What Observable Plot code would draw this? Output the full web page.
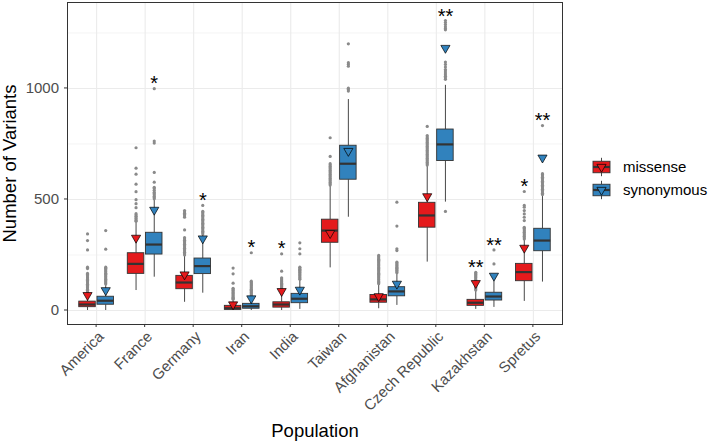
<!DOCTYPE html>
<html>
<head>
<meta charset="utf-8">
<script src="https://cdn.jsdelivr.net/npm/d3@7"></script>
<script src="https://cdn.jsdelivr.net/npm/@observablehq/plot@0.6"></script>
<style>
  body { margin: 0; background: #fff; }
</style>
</head>
<body>
<div id="chart"></div>
<script>
// ---------- data ----------
const populations = ["America","France","Germany","Iran","India","Taiwan","Afghanistan","Czech Republic","Kazakhstan","Spretus"];
const types = ["missense","synonymous"];
const typeColors = ["#E41A1C","#3182BD"];
const yTicks = [0, 500, 1000];
const yMinor = [250, 750, 1250];

// missense
const misQ1  = [15, 165, 96, 3, 13, 305, 35, 373, 21, 132];
const misMed = [27, 210, 126, 10, 27, 360, 50, 428, 35, 173];
const misQ3  = [40, 258, 156, 21, 37, 409, 70, 485, 48, 210];
const misLo  = [0, 90, 37, 0, 0, 192, 8, 218, 5, 41];
const misHi  = [77, 398, 246, 48, 73, 560, 118, 650, 89, 318];
const misObs = [69, 327, 162, 27, 87, 348, 64, 514, 123, 282];
const misStar  = ["", "", "", "", "*", "", "", "", "**", "*"];
const misStarY = [null, null, null, null, 296, null, null, null, 210, 575];
const misOut = [
  [80,85,91,96,102,107,113,118,124,129,135,140,146,151,157,162,167,189,195,273,315,345],
  [402,407,413,418,424,430,436,463,481,499,535,569,614,641,733],
  [250,256,262,268,274,280,286,292,298,304,310,316,322,328,363,420,426,432,438,444,450],
  [51,55,60,65,70,75,80,85,90,95,100,123,165,191],
  [78,83,88,93,98,103,108,113,118,123,128,133,138,143,147,177,255],
  [565,571,577,583,589,595,601,607,613,619,625,631,637,643,649,655,661,694,778],
  [121,126,131,137,142,147,152,158,163,168,173,179,184,189,194,200,205,210,215,221,226,231,236,242,248],
  [655,661,667,673,679,685,691,697,703,709,715,721,727,733,739,745,751,757,763,769,775,781,788,829],
  [92,97,102,107,112,117,122,127,132,137,142,147,152,157,162,167,172],
  [322,328,334,340,346,352,358,364,370,375,405,420,435,450,465,473,536]
];

// synonymous
const synQ1  = [26, 252, 164, 8, 33, 589, 64, 673, 45, 267];
const synMed = [44, 297, 200, 19, 53, 661, 86, 748, 63, 315];
const synQ3  = [62, 350, 234, 30, 75, 742, 105, 815, 80, 368];
const synLo  = [0, 150, 78, 0, 5, 420, 23, 488, 14, 128];
const synHi  = [116, 497, 339, 63, 138, 950, 167, 1014, 132, 518];
const synObs = [91, 453, 324, 54, 93, 718, 120, 1182, 156, 688];
const synStar  = ["", "*", "*", "*", "", "", "", "**", "**", "**"];
const synStarY = [null, 1040, 514, 300, null, null, null, 1342, 312, 871];
const synOut = [
  [119,124,130,135,141,146,152,157,163,168,174,179,185,190,195,276,360],
  [503,509,515,521,527,533,541,549,555,578,622,754,763,999],
  [345,351,357,363,369,375,381,387,393,399,405,411,417,423,429,435,441,447,473],
  [66,71,76,81,86,91,96,101,106,111,116,121,126,132,260],
  [141,146,151,156,161,166,171,176,181,186,191,195,255,278,305],
  [988,995,1001,1100,1108,1116,1201],
  [170,175,180,185,190,195,200,205,210,215,218,270,278,380,488],
  [446,1041,1048,1055,1062,1070,1078,1085,1096,1108,1119,1264,1270,1278,1288,1297,1306],
  [210,273],
  [522,528,534,540,546,552,558,564,570,576,582,588,594,600,606,612,616,833]
];

// ---------- tables built from the arrays ----------
const dodge = 0.1875, halfW = 0.17;
const rows = [];
populations.forEach((p, i) => {
  rows.push({pop: p, type: "missense", c: i + 1 - dodge,
    q1: misQ1[i], med: misMed[i], q3: misQ3[i], lo: misLo[i], hi: misHi[i], obs: misObs[i],
    star: misStar[i], starY: misStarY[i], out: misOut[i]});
  rows.push({pop: p, type: "synonymous", c: i + 1 + dodge,
    q1: synQ1[i], med: synMed[i], q3: synQ3[i], lo: synLo[i], hi: synHi[i], obs: synObs[i],
    star: synStar[i], starY: synStarY[i], out: synOut[i]});
});
const outRows = rows.flatMap(r => r.out.map(v => ({c: r.c, v, type: r.type})));
const starRows = rows.filter(r => r.star);
const xPos = populations.map((p, i) => i + 1);

const font = "'Liberation Sans', Arial, Helvetica, sans-serif";

const plot = Plot.plot({
  width: 709,
  height: 443,
  marginLeft: 67,
  marginRight: 147,
  marginTop: 2,
  marginBottom: 119,
  style: {fontFamily: font, fontSize: "15px", background: "#fff", overflow: "visible"},
  x: {type: "linear", domain: [0.4, 10.6], axis: null},
  y: {domain: [-63, 1387], axis: null},
  color: {domain: types, range: typeColors},
  marks: [
    Plot.ruleY(yMinor, {stroke: "#EBEBEB", strokeWidth: 0.55}),
    Plot.ruleY(yTicks, {stroke: "#EBEBEB", strokeWidth: 1.1}),
    Plot.ruleX(xPos, {stroke: "#EBEBEB", strokeWidth: 1.1}),
    Plot.ruleX(rows, {x: "c", y1: "q3", y2: "hi", stroke: "#333", strokeWidth: 0.9}),
    Plot.ruleX(rows, {x: "c", y1: "lo", y2: "q1", stroke: "#333", strokeWidth: 0.9}),
    Plot.dot(outRows, {x: "c", y: "v", r: 1.6, fill: "#8A8A8A", stroke: null}),
    Plot.rect(rows, {x1: d => d.c - halfW, x2: d => d.c + halfW, y1: "q1", y2: "q3",
      fill: "type", stroke: "#333", strokeWidth: 0.9}),
    Plot.ruleY(rows, {x1: d => d.c - halfW, x2: d => d.c + halfW, y: "med", stroke: "#333", strokeWidth: 2.2}),
    Plot.dot(rows, {x: "c", y: "obs", symbol: "triangle", rotate: 180, r: 3.4,
      fill: "type", stroke: "#000", strokeWidth: 0.7}),
    Plot.text(starRows, {x: "c", y: "starY", text: "star", fontSize: 20, fill: "#000", dy: 4}),
    Plot.frame({stroke: "#333", strokeWidth: 1}),
    // y tick labels
    Plot.text(yTicks, {y: d => d, text: d => String(d), frameAnchor: "left", dx: -8.5,
      textAnchor: "end", fontSize: 15, fill: "#4D4D4D"}),
    // x tick labels
    Plot.text(populations, {x: (d, i) => i + 1, text: d => d, frameAnchor: "bottom",
      rotate: -45, textAnchor: "end", lineAnchor: "top", dx: 0.5, dy: 5.5, fontSize: 15, fill: "#4D4D4D"}),
    // axis titles
    Plot.text(["Number of Variants"], {frameAnchor: "left", rotate: -90, dx: -52,
      textAnchor: "middle", lineAnchor: "bottom", fontSize: 18.5, fill: "#000", text: d => d}),
    Plot.text(["Population"], {frameAnchor: "bottom", dy: 112, textAnchor: "middle", lineAnchor: "bottom",
      fontSize: 18.5, fill: "#000", text: d => d})
  ]
});

// axis tick marks (short lines outside the panel), placed with the plot's scales
const sx = plot.scale("x"), sy = plot.scale("y");
const svg = d3.select(plot);
const axG = svg.append("g").attr("stroke", "#333").attr("stroke-width", 1);
yTicks.forEach(v => {
  const y = sy.apply(v);
  axG.append("line").attr("x1", 64).attr("x2", 67).attr("y1", y).attr("y2", y);
});
xPos.forEach(v => {
  const x = sx.apply(v);
  axG.append("line").attr("x1", x).attr("x2", x).attr("y1", 324).attr("y2", 327);
});

// legend
const lg = svg.append("g").attr("text-anchor", "start");
const triPath = d3.symbol(d3.symbolTriangle, Math.PI * 3.4 * 3.4)();
types.forEach((t, k) => {
  const cy = 167 + k * 23;
  lg.append("line").attr("x1", 601.5).attr("x2", 601.5).attr("y1", cy - 9.2).attr("y2", cy - 5.75)
    .attr("stroke", "#333").attr("stroke-width", 0.9);
  lg.append("line").attr("x1", 601.5).attr("x2", 601.5).attr("y1", cy + 5.75).attr("y2", cy + 9.2)
    .attr("stroke", "#333").attr("stroke-width", 0.9);
  lg.append("rect").attr("x", 593).attr("y", cy - 5.75).attr("width", 17).attr("height", 11.5)
    .attr("fill", typeColors[k]).attr("stroke", "#333").attr("stroke-width", 0.9);
  lg.append("line").attr("x1", 593).attr("x2", 610).attr("y1", cy).attr("y2", cy)
    .attr("stroke", "#333").attr("stroke-width", 2.2);
  lg.append("path").attr("d", triPath).attr("transform", `translate(601.5,${cy}) rotate(180)`)
    .attr("fill", typeColors[k]).attr("stroke", "#000").attr("stroke-width", 0.7);
  lg.append("text").attr("x", 623).attr("y", cy).attr("dy", "0.35em").attr("text-anchor", "start")
    .attr("font-size", 15).attr("fill", "#000").text(t);
});

document.getElementById("chart").appendChild(plot);
</script>
</body>
</html>
